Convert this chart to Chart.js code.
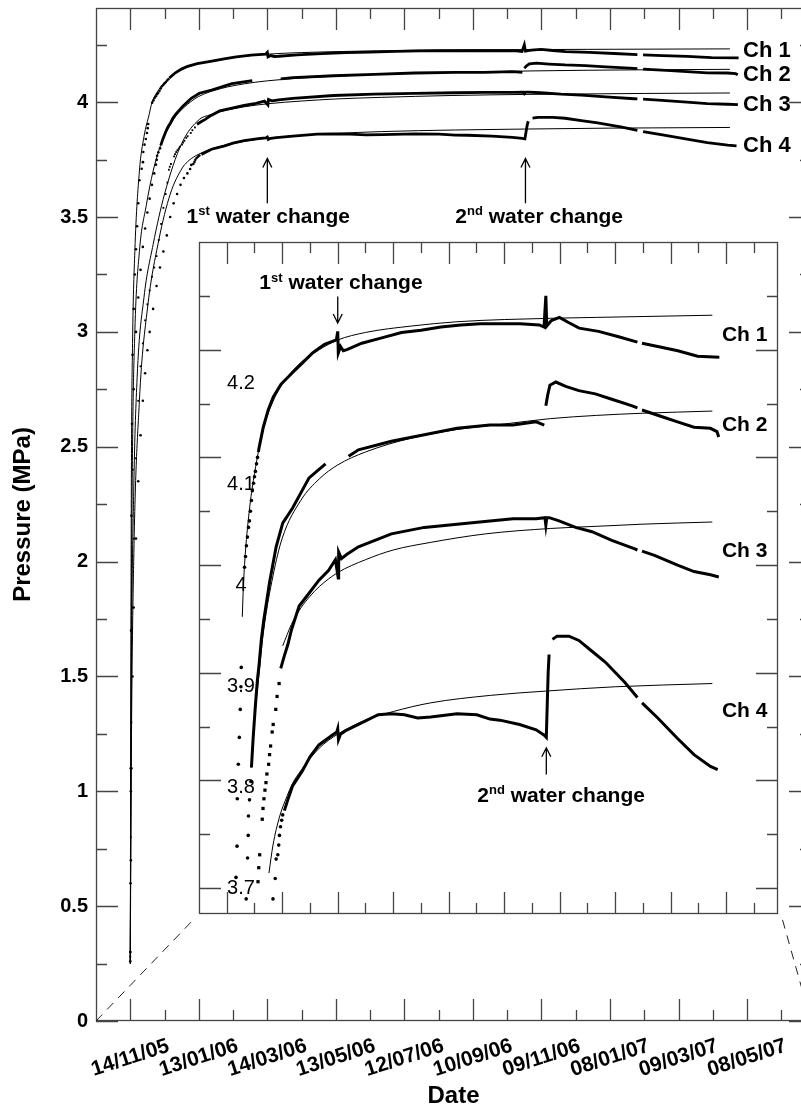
<!DOCTYPE html>
<html>
<head>
<meta charset="utf-8">
<script src="https://cdn.jsdelivr.net/npm/chart.js@4.4.1/dist/chart.umd.min.js"></script>
<style>
  html, body { margin: 0; padding: 0; background: #fff; overflow: hidden; }
  #wrap { position: relative; width: 801px; height: 1111px; overflow: hidden; }
  #main { position: absolute; left: 0; top: 0; }
  #inset { position: absolute; left: 195px; top: 238px; }
</style>
</head>
<body>
<div id="wrap">
  <canvas id="main" width="830" height="1111"></canvas>
  <canvas id="inset" width="587" height="680"></canvas>
</div>
<script>
// x values are days counted from 14/11/05
const xMajorDays = [0, 60, 120, 180, 240, 300, 360, 420, 480, 540];
const xLabels = ['14/11/05', '13/01/06', '14/03/06', '13/05/06', '12/07/06',
                 '10/09/06', '09/11/06', '08/01/07', '09/03/07', '08/05/07'];
const xMinorDays = [30, 90, 150, 210, 270, 330, 390, 450, 510, 570];

const mainYMajor = [0, 0.5, 1, 1.5, 2, 2.5, 3, 3.5, 4];
const mainYMinor = [0.25, 0.75, 1.25, 1.75, 2.25, 2.75, 3.25, 3.75, 4.25];
const insetYMajor = [3.7, 3.8, 3.9, 4, 4.1, 4.2];
const insetYMinor = [3.75, 3.85, 3.95, 4.05, 4.15, 4.25];
const insetYLabels = ['3.7', '3.8', '3.9', '4', '4.1', '4.2'];

const channels = ['Ch 1', 'Ch 2', 'Ch 3', 'Ch 4'];

// early readings (drawn as separate markers)
const ch1Rise = [[0,0.26],[0.2,0.6],[0.4,1.1],[0.7,1.7],[1,2.2],[1.5,2.6],[2,2.9],[3,3.1],[4,3.25],[5,3.36],[6,3.46],[7,3.56],[8,3.66],[10,3.71],[11.1,3.739],[11.4,3.783],[12.5,3.815],[13.6,3.84],[14.6,3.866],[15.3,3.887],[15.7,3.905],[19.2,3.998],[20.3,4.008],[21.3,4.018],[22.4,4.026],[23.5,4.035],[24.5,4.041],[25.6,4.05],[26.7,4.06],[27.7,4.069],[29,4.076],[30,4.082],[31,4.087],[32.2,4.094],[33.3,4.1]];
const ch2Rise = [[0,0.3],[0.5,1.0],[1,1.7],[2,2.4],[3,2.75],[5,3.0],[7,3.15],[9,3.27],[11,3.37],[13,3.45],[15,3.52],[17,3.58],[19,3.64],[21,3.69],[22.5,3.728],[23.2,3.749],[23.5,3.767],[24.6,3.782],[26.1,3.799]];
const ch3Rise = [[0,0.28],[0.5,0.8],[1,1.3],[2,1.8],[3,2.1],[5,2.45],[7,2.7],[9,2.85],[11,2.95],[13,3.05],[15,3.12],[17,3.18],[19,3.24],[21,3.28],[23,3.33],[25,3.4],[27,3.47],[29,3.54],[31,3.6],[32.5,3.65],[33.8,3.706],[34.6,3.719],[35.6,3.731],[38.4,3.764],[39.2,3.774],[40.2,3.783],[41.3,3.791],[42.4,3.798],[43.4,3.806],[45.3,3.815],[46.3,3.824],[47.4,3.832],[49.1,3.845],[50.2,3.852],[53,3.866],[54.4,3.878],[56.6,3.89]];
const ch4Rise = [[0,0.3],[0.5,0.7],[1,1.1],[2,1.5],[3,1.8],[5,2.1],[7,2.35],[9,2.55],[11,2.7],[13,2.82],[15,2.92],[17,3.0],[20,3.1],[23,3.2],[26,3.28],[29,3.35],[32,3.42],[35,3.5],[38,3.56],[41,3.6],[44,3.64],[47,3.67],[50,3.69],[52.4,3.709],[53.4,3.727],[55.2,3.731],[56.2,3.74],[57,3.749],[58.1,3.757],[59.4,3.763],[60.5,3.768]];

// logged pressure (MPa)
const ch1Data = [[34.2,4.105],[35.2,4.11],[39.5,4.128],[44.8,4.144],[50.2,4.156],[58.7,4.168],[71.5,4.179],[82.2,4.188],[92.8,4.197],[105.7,4.205],[118.5,4.209],[120,4.217],[120.6,4.197],[123,4.203],[126,4.199],[130,4.2],[146,4.206],[167.6,4.211],[189,4.216],[210,4.218],[231.6,4.221],[253,4.223],[274,4.224],[295.6,4.224],[317,4.224],[338,4.223],[343,4.221],[345,4.25],[346,4.222],[351,4.227],[359.7,4.23],[370,4.225],[381,4.22],[402,4.217],[423.7,4.212],[444,4.207],[446,null],[449,4.206],[466,4.203],[487.7,4.199],[509,4.194],[532.6,4.193]];
const ch2Data = [[26.7,3.812],[28.5,3.839],[31,3.87],[33.1,3.893],[34.9,3.907],[37.4,3.931],[39.9,3.948],[46.3,3.984],[53.4,4.017],[60.5,4.039],[71.2,4.053],[89,4.081],[106.8,4.094],[118,null],[131.7,4.101],[142.4,4.107],[178,4.115],[213.6,4.121],[249,4.127],[284.6,4.13],[309.6,4.13],[334.5,4.133],[343.3,4.13],[344.5,null],[345,4.148],[347,4.158],[349.4,4.167],[355.8,4.17],[366.5,4.166],[380.7,4.162],[398.5,4.159],[416.3,4.154],[437.6,4.148],[444,4.146],[446,null],[449,4.144],[473.2,4.137],[487.4,4.133],[505.2,4.128],[523,4.127],[530,4.124],[531.9,4.119]];
const ch3Data = [[58.4,3.904],[62,3.915],[66,3.926],[70,3.94],[78.3,3.962],[90,3.975],[99.7,3.986],[110,3.995],[117.5,4.005],[120.5,3.988],[121,4.012],[124,4.006],[130,4.01],[142.4,4.017],[178,4.029],[213.6,4.035],[249,4.038],[284.6,4.041],[309.6,4.043],[334.5,4.043],[344,4.044],[345,4.037],[346,4.044],[348.7,4.044],[359.3,4.041],[377.1,4.035],[394.9,4.031],[416.3,4.023],[441.2,4.015],[444,4.014],[446,null],[449,4.013],[462.5,4.009],[487.4,4.0],[505.2,3.994],[523,3.991],[532,3.989]];
const ch4Data = [[62.3,3.772],[66,3.782],[71.2,3.795],[81.9,3.809],[90,3.822],[99.7,3.833],[113.9,3.842],[119,3.845],[120,3.848],[120.8,3.838],[123,3.843],[128,3.846],[142.4,3.852],[163.7,3.861],[178,3.862],[192.1,3.861],[206.4,3.858],[220.6,3.859],[249,3.862],[270.4,3.861],[284.6,3.857],[295.3,3.856],[316.6,3.852],[334.5,3.847],[343.3,3.842],[345.5,3.84],[346.5,3.87],[347.5,3.9],[348.5,3.917],[350,null],[352.2,3.931],[357,3.934],[362.9,3.934],[370,3.934],[380.7,3.93],[394.9,3.92],[409.2,3.91],[430.5,3.891],[444,3.877],[446,null],[449,3.872],[466,3.858],[487.4,3.839],[505.2,3.824],[523,3.813],[530.8,3.81]];

// fitted curves
const ch1Fit = [[16.8,3.952],[18,3.98],[20,4.01],[25,4.055],[30,4.085],[40,4.128],[50,4.152],[60,4.168],[80,4.188],[100,4.2],[120,4.209],[150,4.216],[200,4.222],[250,4.226],[300,4.228],[400,4.23],[525,4.232]];
const ch2Fit = [[26.5,3.812],[30,3.855],[35,3.9],[40,3.94],[50,3.99],[60,4.025],[80,4.06],[100,4.08],[120,4.093],[150,4.105],[200,4.118],[250,4.126],[300,4.131],[350,4.136],[400,4.139],[450,4.141],[525,4.143]];
const ch3Fit = [[60.5,3.925],[70,3.945],[80,3.96],[90,3.971],[100,3.98],[120,3.993],[150,4.005],[180,4.014],[220,4.021],[280,4.029],[350,4.034],[400,4.036],[450,4.038],[525,4.04]];
const ch4Fit = [[45.6,3.714],[50,3.74],[57,3.766],[65,3.785],[71,3.797],[80,3.809],[100,3.83],[120,3.843],[150,3.856],[180,3.864],[220,3.872],[285,3.879],[345,3.883],[420,3.887],[525,3.89]];
// start of the fits, only visible on the full-scale panel
const ch1FitRise = [[0,0.25],[0.5,1.5],[1,2.4],[2,2.95],[4,3.35],[8,3.7],[12,3.85]];
const ch2FitRise = [[0,0.25],[1,1.8],[2,2.5],[4,3.0],[8,3.35],[14,3.55],[20,3.7]];
const ch3FitRise = [[0,0.25],[1,1.5],[3,2.3],[6,2.8],[12,3.15],[20,3.38],[30,3.6],[45,3.82]];
const ch4FitRise = [[0,0.25],[1,1.2],[3,2.0],[8,2.7],[15,3.1],[25,3.4],[35,3.6]];

// where the channel names sit (pressure level at the right end)
const mainLabelP = [4.225, 4.117, 3.99, 3.808];
const insetLabelP = [4.213, 4.13, 4.013, 3.864];

const FONT = '"Liberation Sans", Arial, Helvetica, sans-serif';
Chart.defaults.font.family = FONT;
Chart.defaults.color = '#000';
Chart.defaults.animation = false;

const pts = arr => arr.map(([x, y]) => ({ x, y }));
const rises = [ch1Rise, ch2Rise, ch3Rise, ch4Rise];
const traces = [ch1Data, ch2Data, ch3Data, ch4Data];
const fits = [ch1Fit, ch2Fit, ch3Fit, ch4Fit];
const fitRises = [ch1FitRise, ch2FitRise, ch3FitRise, ch4FitRise];
const markers = ['circle', 'circle', 'rect', 'circle'];

function buildSets(full) {
  const sets = [];
  channels.forEach((name, i) => {
    sets.push({
      label: name + ' early', data: pts(rises[i]), showLine: false,
      pointStyle: markers[i], pointRadius: full ? 1.3 : (i === 2 ? 2.3 : 1.8),
      backgroundColor: '#000', borderColor: '#000', borderWidth: 0
    });
    sets.push({
      label: name, data: pts(traces[i]), borderColor: '#000',
      borderWidth: full ? 2.8 : 3, pointRadius: 0, spanGaps: false
    });
    sets.push({
      label: name + ' fit', data: pts(full ? fitRises[i].concat(fits[i]) : fits[i]),
      borderColor: '#000', borderWidth: 1, pointRadius: 0,
      cubicInterpolationMode: 'monotone'
    });
  });
  return sets;
}

function drawArrow(ctx, x, y0, y1) {
  const dir = y1 < y0 ? 1 : -1;
  ctx.beginPath();
  ctx.moveTo(x, y0); ctx.lineTo(x, y1);
  ctx.moveTo(x - 4.5, y1 + dir * 9); ctx.lineTo(x, y1); ctx.lineTo(x + 4.5, y1 + dir * 9);
  ctx.strokeStyle = '#000'; ctx.lineWidth = 1.3;
  ctx.stroke();
}

function drawNote(ctx, cx, cy, num, sup, size) {
  const big = 'bold ' + size + 'px ' + FONT;
  const small = 'bold ' + Math.round(size * 0.64) + 'px ' + FONT;
  const rest = ' water change';
  ctx.font = big;
  const w1 = ctx.measureText(num).width, w3 = ctx.measureText(rest).width;
  ctx.font = small;
  const w2 = ctx.measureText(sup).width;
  const x0 = cx - (w1 + w2 + w3) / 2, base = cy + size * 0.36;
  ctx.fillStyle = '#000'; ctx.textAlign = 'left'; ctx.textBaseline = 'alphabetic';
  ctx.font = big; ctx.fillText(num, x0, base);
  ctx.font = small; ctx.fillText(sup, x0 + w1, base - size * 0.36);
  ctx.font = big; ctx.fillText(rest, x0 + w1 + w2, base);
}

function framePlugin(cfg) {
  return {
    id: 'frame',
    beforeDraw(chart) {
      if (!cfg.fill) return;
      const { ctx, chartArea: a } = chart;
      ctx.save(); ctx.fillStyle = '#fff';
      ctx.fillRect(a.left, a.top, a.right - a.left, a.bottom - a.top);
      ctx.restore();
    },
    afterDraw(chart) {
      const { ctx, chartArea: a, scales: { x, y } } = chart;
      ctx.save();
      ctx.strokeStyle = '#444'; ctx.lineWidth = 1.3;
      ctx.strokeRect(a.left + 0.5, a.top + 0.5, a.right - a.left - 1, a.bottom - a.top - 1);
      ctx.beginPath();
      const xs = (days, len) => days.forEach(d => {
        const p = Math.round(x.getPixelForValue(d)) + 0.5;
        ctx.moveTo(p, a.bottom); ctx.lineTo(p, a.bottom - len);
        ctx.moveTo(p, a.top); ctx.lineTo(p, a.top + len);
      });
      const ys = (vals, len) => vals.forEach(v => {
        const p = Math.round(y.getPixelForValue(v)) + 0.5;
        ctx.moveTo(a.left, p); ctx.lineTo(a.left + len, p);
        ctx.moveTo(a.right, p); ctx.lineTo(a.right - len, p);
      });
      xs(xMajorDays, 22); xs(xMinorDays, 11);
      ys(cfg.yMajor, 22); ys(cfg.yMinor, 11);
      ctx.stroke();

      // channel names
      ctx.fillStyle = '#000'; ctx.textAlign = 'left'; ctx.textBaseline = 'middle';
      ctx.font = 'bold ' + cfg.chSize + 'px ' + FONT;
      channels.forEach((c, i) => ctx.fillText(c, x.getPixelForValue(cfg.chDay), y.getPixelForValue(cfg.chP[i])));

      // water change notes
      cfg.notes.forEach(n => {
        const ax = x.getPixelForValue(n.day);
        drawArrow(ctx, ax, y.getPixelForValue(n.tail), y.getPixelForValue(n.head));
        drawNote(ctx, x.getPixelForValue(n.textDay), y.getPixelForValue(n.textP), n.num, n.sup, n.size);
      });
      if (cfg.extra) cfg.extra(chart);
      ctx.restore();
    }
  };
}

const noPad = s => { s.paddingTop = 0; s.paddingBottom = 0; s.paddingLeft = 0; s.paddingRight = 0; };
const insetCanvas = document.getElementById('inset');

new Chart(document.getElementById('main'), {
  type: 'line',
  data: { datasets: buildSets(true) },
  options: {
    responsive: false,
    layout: { padding: { top: 8, right: 19, left: 0, bottom: 0 } },
    plugins: { legend: { display: false }, tooltip: { enabled: false } },
    scales: {
      x: {
        type: 'linear', min: -30, max: 596,
        grid: { display: false }, border: { display: false },
        ticks: { display: false },
        title: { display: true, text: 'Date', font: { size: 24, weight: 'bold' }, padding: { top: 0, bottom: 0 } },
        afterFit: s => { s.height = 90; noPad(s); }
      },
      y: {
        min: 0, max: 4.41,
        grid: { display: false, drawTicks: false }, border: { display: false },
        afterBuildTicks: s => { s.ticks = mainYMajor.map(v => ({ value: v })); },
        ticks: { font: { size: 20, weight: 'bold' }, padding: 8, callback: v => String(v) },
        title: { display: true, text: 'Pressure (MPa)', font: { size: 24, weight: 'bold' }, padding: { top: 9, bottom: 0 } },
        afterFit: s => { s.width = 96; noPad(s); }
      }
    }
  },
  plugins: [framePlugin({
    yMajor: mainYMajor, yMinor: mainYMinor, chDay: 536.5, chP: mainLabelP, chSize: 22,
    notes: [
      { day: 120, tail: 3.56, head: 3.755, textDay: 120.8, textP: 3.507, num: '1', sup: 'st', size: 21 },
      { day: 346, tail: 3.56, head: 3.755, textDay: 358, textP: 3.507, num: '2', sup: 'nd', size: 21 }
    ],
    extra(chart) {
      const { ctx, chartArea: a, scales: { x } } = chart;
      // rotated date labels
      ctx.font = 'bold 21px ' + FONT;
      ctx.textAlign = 'center'; ctx.textBaseline = 'middle'; ctx.fillStyle = '#000';
      xMajorDays.forEach((d, i) => {
        ctx.save();
        ctx.translate(x.getPixelForValue(d), a.bottom + 37);
        ctx.rotate(-18 * Math.PI / 180);
        ctx.fillText(xLabels[i], 0, 0);
        ctx.restore();
      });
      // zoom guide lines to the inset
      const il = insetCanvas.offsetLeft, ib = insetCanvas.offsetTop + insetCanvas.height;
      const ir = il + insetCanvas.width;
      ctx.strokeStyle = '#222'; ctx.lineWidth = 1; ctx.setLineDash([9, 7]);
      ctx.beginPath();
      ctx.moveTo(a.left, a.bottom); ctx.lineTo(il, ib);
      ctx.moveTo(a.right, a.bottom); ctx.lineTo(ir, ib);
      ctx.stroke();
      ctx.setLineDash([]);
    }
  })]
});

new Chart(insetCanvas, {
  type: 'line',
  data: { datasets: buildSets(false) },
  options: {
    responsive: false,
    layout: { padding: 0 },
    plugins: { legend: { display: false }, tooltip: { enabled: false } },
    scales: {
      x: { type: 'linear', display: false, min: -30, max: 596 },
      y: { display: false, min: 3.676, max: 4.3 },
      // the printed inset labels are spaced a little tighter than its ticks
      yLab: { type: 'linear', axis: 'y', position: 'left', display: false, min: 3.6746, max: 4.3399 }
    }
  },
  plugins: [framePlugin({
    fill: true, yMajor: insetYMajor, yMinor: insetYMinor, chDay: 535.4, chP: insetLabelP, chSize: 21,
    notes: [
      { day: 120, tail: 4.2495, head: 4.2248, textDay: 123.5, textP: 4.2633, num: '1', sup: 'st', size: 21 },
      { day: 345.5, tail: 3.8055, head: 3.8303, textDay: 361.5, textP: 3.7872, num: '2', sup: 'nd', size: 21 }
    ],
    extra(chart) {
      const { ctx, chartArea: a, scales: { yLab } } = chart;
      ctx.font = '20px ' + FONT;
      ctx.textAlign = 'center'; ctx.textBaseline = 'middle'; ctx.fillStyle = '#000';
      insetYMajor.forEach((v, i) => ctx.fillText(insetYLabels[i], a.left + 42, yLab.getPixelForValue(v)));
    }
  })]
});
</script>
</body>
</html>
